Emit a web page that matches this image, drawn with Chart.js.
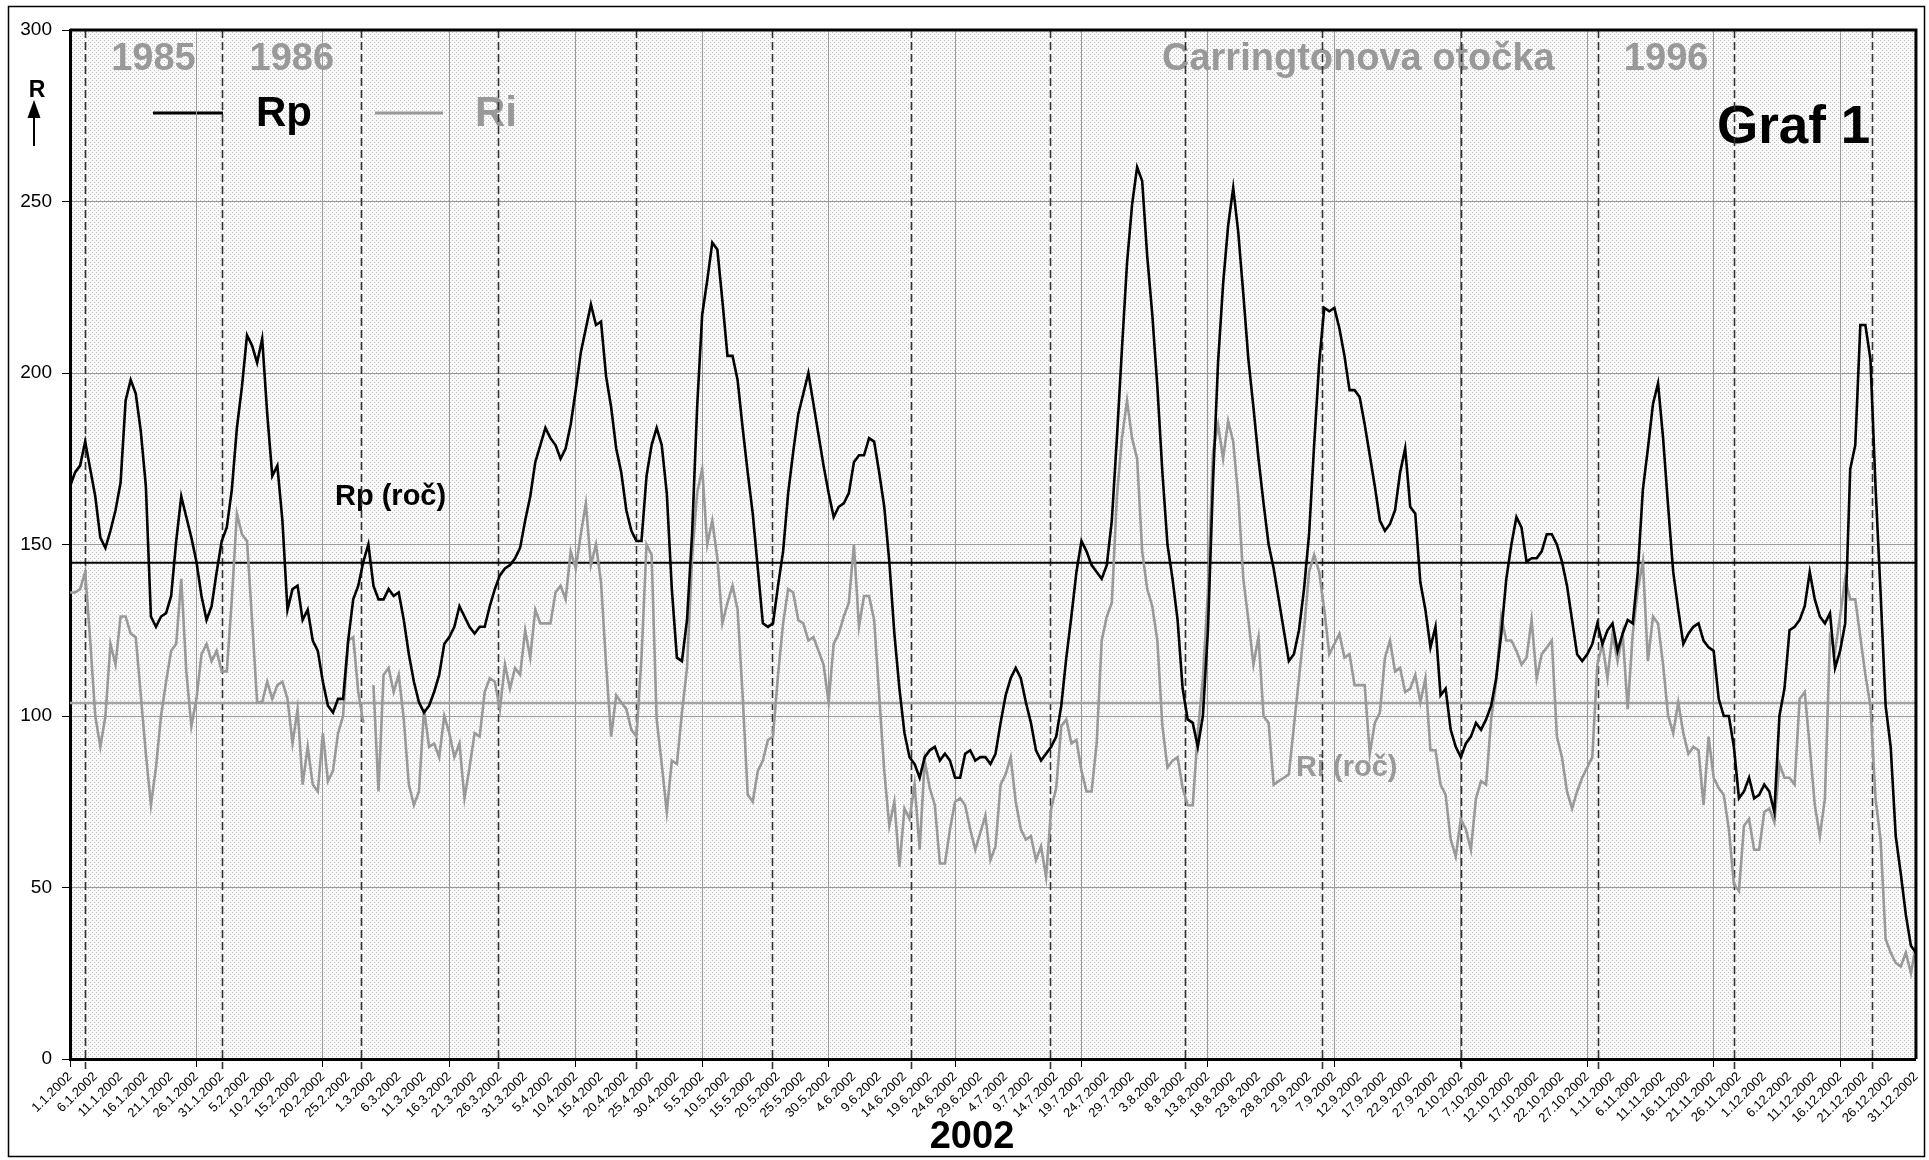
<!DOCTYPE html>
<html>
<head>
<meta charset="utf-8">
<title>Graf 1</title>
<script src="https://cdn.jsdelivr.net/npm/chart.js@4.4.1/dist/chart.umd.min.js"></script>
<style>
  html, body { margin: 0; padding: 0; background: #fff; }
  canvas { display: block; }
</style>
</head>
<body>
<canvas id="graf" width="1929" height="1160"></canvas>
<script>
// zdrojová tabuľka má vo februári jeden riadok navyše (366 riadkov)
const dniMesiaca = [31, 29, 31, 30, 31, 30, 31, 31, 30, 31, 30, 31];
const dni = [];
dniMesiaca.forEach((n, m) => {
  for (let d = 1; d <= n; d++) dni.push(d + '.' + (m + 1) + '.2002');
});

const rp = [
  167, 171, 173, 180, 172, 164, 152, 149, 154, 160, 168, 192, 198, 194, 183, 167, 129, 126, 129, 130,
  135, 151, 164, 158, 152, 145, 135, 128, 132, 142, 151, 155, 166, 184, 196, 211, 208, 203, 210, 188,
  170, 173, 157, 131, 137, 138, 128, 131, 122, 119, 110, 103, 101, 105, 105, 122, 134, 138, 145, 150,
  138, 134, 134, 137, 135, 136, 128, 118, 110, 104, 101, 103, 107, 112, 121, 123, 126, 132, 129, 126,
  124, 126, 126, 132, 137, 141, 143, 144, 146, 149, 157, 164, 174, 179, 184, 181, 179, 175, 178, 185,
  195, 206, 213, 220, 214, 215, 199, 190, 178, 171, 160, 154, 151, 151, 170, 179, 184, 179, 165, 137,
  117, 116, 128, 153, 190, 217, 227, 238, 236, 221, 205, 205, 198, 184, 171, 159, 143, 127, 126, 127,
  138, 148, 165, 177, 188, 194, 200, 191, 182, 173, 165, 158, 161, 162, 165, 174, 176, 176, 181, 180,
  171, 161, 145, 124, 108, 95, 88, 86, 82, 88, 90, 91, 87, 89, 87, 82, 82, 89, 90, 87,
  88, 88, 86, 89, 98, 106, 111, 114, 111, 104, 98, 90, 87, 89, 91, 94, 103, 117, 129, 142,
  151, 148, 144, 142, 140, 144, 157, 181, 207, 232, 249, 260, 256, 234, 217, 196, 171, 150, 140, 128,
  108, 99, 98, 91, 100, 125, 168, 203, 226, 243, 254, 241, 223, 204, 190, 175, 162, 150, 143, 134,
  125, 116, 118, 125, 137, 153, 179, 203, 219, 218, 219, 213, 205, 195, 195, 193, 185, 176, 167, 157,
  154, 156, 160, 171, 178, 161, 159, 139, 131, 120, 126, 106, 108, 96, 91, 88, 92, 94, 98, 96,
  99, 103, 111, 124, 140, 150, 158, 155, 145, 146, 146, 148, 153, 153, 150, 145, 138, 128, 118, 116,
  118, 121, 127, 121, 125, 127, 119, 124, 128, 127, 142, 166, 178, 191, 197, 181, 161, 142, 131, 121,
  124, 126, 127, 122, 120, 119, 105, 100, 100, 91, 76, 78, 82, 76, 77, 80, 78, 72, 100, 108,
  125, 126, 128, 132, 142, 134, 129, 127, 130, 114, 119, 127, 172, 179, 214, 214, 204, 167, 136, 103,
  91, 65, 54, 42, 33, 31
];

const ri = [
  136, 136, 137, 142, 122, 100, 91, 100, 121, 115, 129, 129, 124, 123, 106, 89, 74, 85, 100, 110,
  119, 121, 140, 113, 97, 105, 118, 121, 116, 119, 113, 113, 134, 159, 153, 151, 128, 104, 104, 110,
  105, 109, 110, 105, 92, 102, 80, 91, 80, 78, 95, 81, 84, 95, 100, 122, 123, 107, 98, null,
  109, 78, 112, 114, 107, 112, 99, 80, 74, 78, 102, 91, 92, 88, 100, 95, 88, 92, 76, 85,
  95, 94, 107, 111, 110, 102, 115, 108, 114, 112, 125, 117, 131, 127, 127, 127, 136, 138, 134, 148,
  143, 153, 162, 144, 150, 139, 115, 94, 106, 104, 102, 96, 94, 117, 150, 147, 99, 86, 72, 87,
  86, 101, 114, 146, 165, 172, 150, 157, 146, 127, 133, 138, 131, 106, 77, 75, 84, 87, 93, 94,
  112, 127, 137, 136, 128, 127, 122, 123, 119, 115, 104, 121, 124, 129, 133, 150, 126, 135, 135, 128,
  106, 84, 68, 75, 56, 73, 70, 80, 61, 87, 79, 74, 57, 57, 67, 75, 76, 74, 67, 61,
  66, 71, 58, 62, 80, 83, 88, 75, 67, 64, 65, 58, 62, 53, 73, 79, 97, 99, 92, 93,
  84, 78, 78, 92, 122, 129, 133, 164, 181, 192, 181, 175, 148, 137, 132, 122, 97, 85, 87, 88,
  79, 74, 74, 95, 111, 136, 177, 185, 175, 186, 180, 164, 140, 128, 115, 123, 100, 98, 80, 81,
  82, 83, 97, 111, 125, 142, 147, 142, 131, 118, 121, 124, 117, 118, 109, 109, 109, 89, 98, 101,
  117, 122, 113, 114, 107, 108, 112, 104, 111, 90, 90, 80, 77, 64, 59, 70, 67, 61, 76, 81,
  80, 99, 110, 129, 122, 122, 119, 115, 117, 128, 111, 118, 120, 122, 94, 88, 78, 73, 78, 82,
  85, 88, 115, 121, 111, 124, 116, 124, 102, 124, 137, 145, 116, 129, 127, 115, 100, 95, 104, 95,
  89, 91, 90, 74, 94, 82, 79, 77, 67, 51, 49, 68, 70, 61, 61, 72, 73, 69, 86, 82,
  82, 80, 105, 107, 91, 74, 65, 76, 123, 119, 129, 140, 134, 134, 123, 112, 103, 76, 64, 35,
  31, 28, 27, 31, 25, 33
];

// ročné priemery
const rpRoc = 144.7;
const riRoc = 103.8;

// začiatky Carringtonových otočiek (poloha v riadkoch tabuľky)
const carrington = [2.9, 30.1, 57.6, 84.6, 112, 138.9, 166.2, 193.7, 220.5, 247.6, 275, 302.2, 329, 356.4];
const otockyPopis = [[0, '1985'], [1, '1986'], [11, '1996']];

const PISMO = '"Liberation Sans", Arial, sans-serif';
const SIVA = '#999999';

const vzorka = document.createElement('canvas');
vzorka.width = 4;
vzorka.height = 4;
const vc = vzorka.getContext('2d');
vc.fillStyle = '#f9f9f9';
vc.fillRect(0, 0, 4, 4);
vc.fillStyle = '#c2c2c2';
vc.fillRect(0, 0, 1, 1);
vc.fillRect(2, 2, 1, 1);

const pozadie = {
  id: 'pozadie',
  beforeDraw(chart) {
    const { ctx, chartArea: a } = chart;
    const x = chart.scales.x;
    ctx.save();
    ctx.fillStyle = '#fff';
    ctx.fillRect(0, 0, chart.width, chart.height);
    ctx.fillStyle = ctx.createPattern(vzorka, 'repeat');
    ctx.fillRect(a.left, a.top, a.right - a.left, a.bottom - a.top);

    // čísla otočiek a nápis
    ctx.fillStyle = SIVA;
    ctx.font = 'bold 38px ' + PISMO;
    ctx.textBaseline = 'alphabetic';
    ctx.textAlign = 'center';
    otockyPopis.forEach(([k, t]) => {
      const xm = (x.getPixelForValue(carrington[k]) + x.getPixelForValue(carrington[k + 1])) / 2;
      ctx.fillText(t, xm, 70);
    });
    ctx.textAlign = 'left';
    ctx.fillText('Carringtonova otočka', 1162, 70);

    // legenda
    ctx.lineWidth = 3;
    ctx.strokeStyle = '#000';
    ctx.beginPath(); ctx.moveTo(153, 113); ctx.lineTo(223, 113); ctx.stroke();
    ctx.strokeStyle = SIVA;
    ctx.beginPath(); ctx.moveTo(375, 113); ctx.lineTo(443, 113); ctx.stroke();
    ctx.font = 'bold 42px ' + PISMO;
    ctx.fillStyle = '#000';
    ctx.fillText('Rp', 256, 126);
    ctx.fillStyle = SIVA;
    ctx.fillText('Ri', 475, 126);

    ctx.font = 'bold 29px ' + PISMO;
    ctx.fillStyle = '#000';
    ctx.fillText('Rp (roč)', 335, 505);
    ctx.fillStyle = SIVA;
    ctx.fillText('Ri (roč)', 1296, 776);

    ctx.fillStyle = '#000';
    ctx.font = 'bold 53px ' + PISMO;
    ctx.fillText('Graf 1', 1717, 143);
    ctx.restore();
  },
  beforeDatasetsDraw(chart) {
    const { ctx, chartArea: a } = chart;
    const x = chart.scales.x;
    ctx.save();
    ctx.strokeStyle = '#333';
    ctx.lineWidth = 1.6;
    ctx.setLineDash([8, 4]);
    carrington.forEach(c => {
      const px = Math.round(x.getPixelForValue(c)) + 0.5;
      ctx.beginPath();
      ctx.moveTo(px, a.top);
      ctx.lineTo(px, a.bottom + 10);
      ctx.stroke();
    });
    ctx.restore();
  },
  afterDraw(chart) {
    const { ctx, chartArea: a } = chart;
    ctx.save();
    ctx.strokeStyle = '#000';
    ctx.lineWidth = 3;
    ctx.beginPath();
    ctx.moveTo(a.left, a.top);
    ctx.lineTo(a.right, a.top);
    ctx.lineTo(a.right, a.bottom);
    ctx.stroke();

    // os R so šípkou
    ctx.fillStyle = '#000';
    ctx.font = 'bold 23px ' + PISMO;
    ctx.textAlign = 'center';
    ctx.fillText('R', 37, 97);
    ctx.lineWidth = 2;
    ctx.beginPath(); ctx.moveTo(34, 146); ctx.lineTo(34, 114); ctx.stroke();
    ctx.beginPath(); ctx.moveTo(34, 100); ctx.lineTo(27.5, 118); ctx.lineTo(40.5, 118); ctx.closePath(); ctx.fill();

    ctx.font = 'bold 38px ' + PISMO;
    ctx.fillText('2002', 972, 1148);

    ctx.lineWidth = 1.5;
    ctx.strokeRect(8.5, 6.5, 1916, 1150);
    ctx.restore();
  }
};

new Chart(document.getElementById('graf'), {
  type: 'line',
  data: {
    labels: dni,
    datasets: [
      { label: 'Rp', data: rp, borderColor: '#000', borderWidth: 2.6 },
      { label: 'Ri', data: ri, borderColor: SIVA, borderWidth: 2.6, spanGaps: false },
      { label: 'Rp (roč)', data: dni.map(() => rpRoc), borderColor: '#000', borderWidth: 2 },
      { label: 'Ri (roč)', data: dni.map(() => riRoc), borderColor: '#a3a3a3', borderWidth: 2.4 }
    ]
  },
  options: {
    responsive: false,
    animation: false,
    devicePixelRatio: 1,
    layout: { padding: { top: 30, right: 10, left: 0, bottom: 0 } },
    elements: { point: { radius: 0 }, line: { tension: 0 } },
    plugins: { legend: { display: false }, tooltip: { enabled: false } },
    scales: {
      x: {
        afterFit: s => { s.height = 101; },
        grid: {
          color: c => c.index % 5 === 0 ? SIVA : 'rgba(0,0,0,0)',
          tickColor: c => c.index % 5 === 0 ? '#000' : 'rgba(0,0,0,0)',
          lineWidth: 1,
          tickLength: 8
        },
        border: { color: '#000', width: 3 },
        ticks: {
          autoSkip: false,
          minRotation: 45,
          maxRotation: 45,
          padding: 2,
          color: '#000',
          font: { family: PISMO, size: 13 },
          callback: function (v, i) { return i % 5 === 0 ? this.getLabelForValue(v) : null; }
        }
      },
      y: {
        min: 0,
        max: 300,
        afterFit: s => { s.width = 70; },
        grid: { color: SIVA, tickColor: '#000', lineWidth: 1, tickLength: 8 },
        border: { color: '#000', width: 3 },
        ticks: {
          stepSize: 50,
          padding: 10,
          color: '#000',
          font: { family: PISMO, size: 19 }
        }
      }
    }
  },
  plugins: [pozadie]
});
</script>
</body>
</html>
